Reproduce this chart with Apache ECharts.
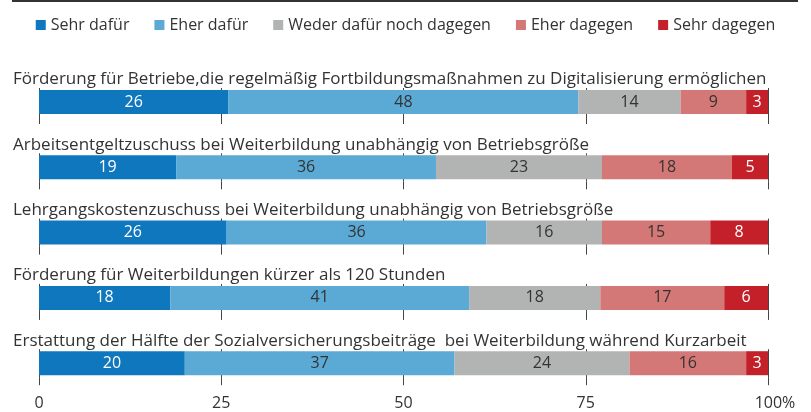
<!DOCTYPE html>
<html>
<head>
<meta charset="utf-8">
<script src="https://cdn.jsdelivr.net/npm/echarts@6/dist/echarts.min.js"></script>
<style>
html, body { margin: 0; padding: 0; background: #fff; }
#chart { width: 811px; height: 412px; }
</style>
</head>
<body>
<div id="chart"></div>
<script>
var categories = [
    'Förderung für Betriebe,die regelmäßig Fortbildungsmaßnahmen zu Digitalisierung ermöglichen',
    'Arbeitsentgeltzuschuss bei Weiterbildung unabhängig von Betriebsgröße',
    'Lehrgangskostenzuschuss bei Weiterbildung unabhängig von Betriebsgröße',
    'Förderung für Weiterbildungen kürzer als 120 Stunden',
    'Erstattung der Hälfte der Sozialversicherungsbeiträge  bei Weiterbildung während Kurzarbeit'
];
var seriesNames = ['Sehr dafür', 'Eher dafür', 'Weder dafür noch dagegen', 'Eher dagegen', 'Sehr dagegen'];
var sehrDafuer  = [26, 19, 26, 18, 20];
var eherDafuer  = [48, 36, 36, 41, 37];
var weder       = [14, 23, 16, 18, 24];
var eherDagegen = [9, 18, 15, 17, 16];
var sehrDagegen = [3, 5, 8, 6, 3];
var tickLabels = ['0', '25', '50', '75', '100%'];

var values = [sehrDafuer, eherDafuer, weder, eherDagegen, sehrDagegen];
var colors = ['#0f77bd', '#5ba9d5', '#b2b4b4', '#d47877', '#c3202a'];
var labelColors = ['#fff', '#333', '#333', '#333', '#fff'];

var chart = echarts.init(document.getElementById('chart'));

// layout per row
var rowTop = 90, rowStep = 65.3, barH = 24;

var grids = [], xAxes = [], yAxes = [], titles = [], series = [];
categories.forEach(function (cat, i) {
    var top = rowTop + i * rowStep - 2;
    var last = i === categories.length - 1;
    grids.push({ left: 39, right: 43, top: top, height: barH + 4 });
    xAxes.push({
        type: 'value', gridIndex: i, min: 0, max: 100, interval: 25,
        axisLine: { show: false },
        axisTick: { show: true, length: 8, lineStyle: { color: '#444', width: 1 } },
        splitLine: { show: true, lineStyle: { color: '#444', width: 1 } },
        axisLabel: {
            show: last, margin: 18, fontSize: 16, color: '#333',
            formatter: function (v) {
                var t = tickLabels[v / 25];
                return v === 100 ? '{p|' + t + '}' : t;
            },
            rich: { p: { fontSize: 16, color: '#333', padding: [0, 0, 0, 14] } }
        }
    });
    yAxes.push({
        type: 'category', gridIndex: i, data: [cat],
        axisLine: { show: false }, axisTick: { show: false }, axisLabel: { show: false }
    });
    titles.push({
        text: cat, left: 8, top: top - 22,
        textStyle: { fontSize: 17, fontWeight: 'normal', color: '#333' }
    });
    var sum = 0;
    values.forEach(function (arr) { sum += arr[i]; });
    values.forEach(function (arr, k) {
        series.push({
            name: seriesNames[k], type: 'bar', stack: 'row' + i,
            xAxisIndex: i, yAxisIndex: i, barWidth: barH,
            itemStyle: { color: colors[k] },
            label: {
                show: true, position: 'inside', fontSize: 16, color: labelColors[k],
                formatter: function () { return arr[i]; }
            },
            data: [arr[i] / sum * 100]
        });
    });
});

option = {
    textStyle: { fontFamily: 'Open Sans' },
    animation: false,
    title: titles,
    legend: {
        left: 'center', top: 12, icon: 'rect', itemWidth: 10, itemHeight: 10, itemGap: 25,
        textStyle: { fontSize: 16, color: '#333' },
        data: seriesNames
    },
    graphic: [{
        type: 'line', shape: { x1: 12, y1: 1, x2: 798, y2: 1 },
        style: { stroke: '#333', lineWidth: 2 }
    }],
    grid: grids,
    xAxis: xAxes,
    yAxis: yAxes,
    series: series
};

chart.setOption(option);
</script>
</body>
</html>
